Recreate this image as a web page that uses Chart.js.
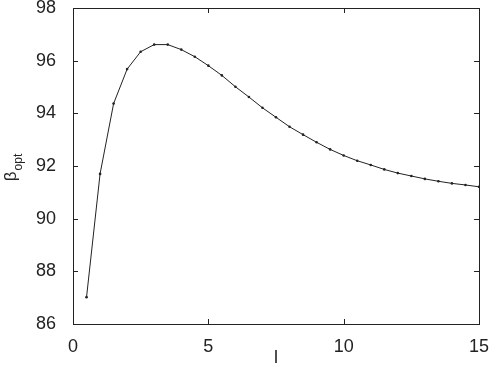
<!DOCTYPE html>
<html>
<head>
<meta charset="utf-8">
<script src="https://cdn.jsdelivr.net/npm/chart.js@4"></script>
<style>
  html, body { margin: 0; padding: 0; background: #fff; }
  #wrap { width: 492px; height: 365px; }
</style>
</head>
<body>
<div id="wrap"><canvas id="betaChart" width="492" height="365"></canvas></div>
<script>
// l values and beta_opt
const lValues = [0.5, 1, 1.5, 2, 2.5, 3, 3.5, 4, 4.5, 5, 5.5, 6, 6.5, 7, 7.5, 8, 8.5, 9, 9.5, 10,
                 10.5, 11, 11.5, 12, 12.5, 13, 13.5, 14, 14.5, 15];
const betaOpt = [87.02, 91.70, 94.37, 95.68, 96.34, 96.61, 96.61, 96.42, 96.15, 95.81, 95.44, 95.01,
                 94.62, 94.21, 93.85, 93.49, 93.19, 92.90, 92.63, 92.40, 92.20, 92.04, 91.87, 91.73,
                 91.62, 91.51, 91.42, 91.34, 91.28, 91.21];
const xTicks = [0, 5, 10, 15];
const yTicks = [86, 88, 90, 92, 94, 96, 98];

const fontFamily = '"Liberation Sans", Arial, Helvetica, sans-serif';
const ink = '#222';

// inward tick marks on all four sides + y title with subscript
const frameTicks = {
  id: 'frameTicks',
  afterDraw(chart) {
    const { ctx, chartArea: a, scales } = chart;
    const len = 5;
    ctx.save();
    ctx.strokeStyle = ink;
    ctx.lineWidth = 1;
    ctx.beginPath();
    xTicks.forEach(v => {
      const x = Math.round(scales.x.getPixelForValue(v)) + 0.5;
      ctx.moveTo(x, a.bottom); ctx.lineTo(x, a.bottom - len);
      ctx.moveTo(x, a.top); ctx.lineTo(x, a.top + len);
    });
    yTicks.forEach(v => {
      const y = Math.round(scales.y.getPixelForValue(v)) + 0.5;
      ctx.moveTo(a.left, y); ctx.lineTo(a.left + len, y);
      ctx.moveTo(a.right, y); ctx.lineTo(a.right - len, y);
    });
    ctx.stroke();
    ctx.strokeRect(Math.round(a.left) + 0.5, Math.round(a.top) + 0.5,
                   Math.round(a.right - a.left), Math.round(a.bottom - a.top));

    // y axis title: beta with "opt" subscript
    ctx.translate(16, (a.top + a.bottom) / 2 + 2);
    ctx.rotate(-Math.PI / 2);
    ctx.fillStyle = ink;
    ctx.textBaseline = 'alphabetic';
    ctx.font = '17px ' + fontFamily;
    const bw = ctx.measureText('β').width;
    ctx.font = '12px ' + fontFamily;
    const sw = ctx.measureText('opt').width;
    const start = -(bw + sw) / 2;
    ctx.font = '17px ' + fontFamily;
    ctx.fillText('β', start, 0);
    ctx.font = '12px ' + fontFamily;
    ctx.fillText('opt', start + bw + 1, 6);
    ctx.restore();
  }
};

new Chart(document.getElementById('betaChart'), {
  type: 'line',
  data: {
    datasets: [{
      data: lValues.map((l, i) => ({ x: l, y: betaOpt[i] })),
      borderColor: ink,
      borderWidth: 1,
      pointRadius: 1.3,
      pointBackgroundColor: ink,
      pointBorderWidth: 0,
      tension: 0,
      fill: false
    }]
  },
  options: {
    responsive: false,
    animation: false,
    layout: { padding: { left: 0, right: 13, top: 8, bottom: 0 } },
    plugins: { legend: { display: false }, tooltip: { enabled: false } },
    scales: {
      x: {
        type: 'linear',
        min: 0, max: 15,
        afterBuildTicks: s => { s.ticks = xTicks.map(v => ({ value: v })); },
        afterFit: s => { s.height = 41; s.paddingLeft = 0; s.paddingRight = 0; },
        grid: { display: false },
        border: { display: false },
        ticks: { color: ink, padding: 4, font: { size: 18, family: fontFamily } },
        title: { display: true, text: 'l', color: ink, padding: { top: 0, bottom: -4 },
                 font: { size: 18, family: fontFamily } }
      },
      y: {
        min: 86, max: 98,
        afterBuildTicks: s => { s.ticks = yTicks.map(v => ({ value: v })); },
        afterFit: s => { s.width = 73; s.paddingTop = 0; s.paddingBottom = 0; },
        grid: { display: false },
        border: { display: false },
        ticks: { color: ink, padding: 9, font: { size: 18, family: fontFamily } }
      }
    }
  },
  plugins: [frameTicks]
});
</script>
</body>
</html>
